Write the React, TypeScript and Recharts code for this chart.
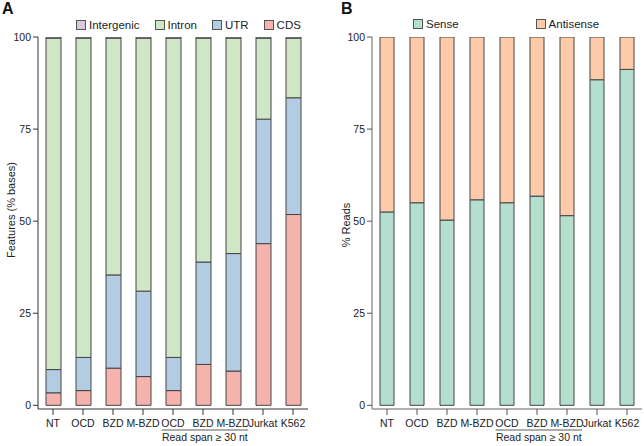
import { BarChart, Bar, XAxis, YAxis } from "recharts";

const CATEGORIES = ["NT", "OCD", "BZD", "M-BZD", "OCD", "BZD", "M-BZD", "Jurkat", "K562"];
const Y_TICKS = [0, 25, 50, 75, 100];

// panel A: features (% bases), stacked bottom -> top
const CDS = [3.4, 4.0, 10.1, 7.8, 4.0, 11.1, 9.3, 43.9, 51.8];
const UTR = [6.3, 9.0, 25.3, 23.2, 9.0, 27.8, 31.9, 33.8, 31.7];
const INTRON = [90.0, 86.7, 64.3, 68.7, 86.7, 60.8, 58.5, 22.0, 16.2];
const INTERGENIC = [0.3, 0.3, 0.3, 0.3, 0.3, 0.3, 0.3, 0.3, 0.3];

// panel B: % reads
const SENSE = [52.5, 55.0, 50.3, 55.8, 55.0, 56.8, 51.5, 88.4, 91.2];
const ANTISENSE = [47.5, 45.0, 49.7, 44.2, 45.0, 43.2, 48.5, 11.6, 8.8];

const FONT = "'Liberation Sans', Arial, Helvetica, sans-serif";

const featureData = CATEGORIES.map((name, i) => ({
  name,
  CDS: CDS[i],
  UTR: UTR[i],
  Intron: INTRON[i],
  Intergenic: INTERGENIC[i],
}));

const readData = CATEGORIES.map((name, i) => ({
  name,
  Sense: SENSE[i],
  Antisense: ANTISENSE[i],
}));

const featureSeries = [
  { key: "Intergenic", color: "#d9c8df" },
  { key: "Intron", color: "#cfe6c7" },
  { key: "UTR", color: "#b4cce3" },
  { key: "CDS", color: "#f5b3ae" },
];

const readSeries = [
  { key: "Sense", color: "#b4decd" },
  { key: "Antisense", color: "#fdcbaa" },
];

const GroupLabel = (props: any) => {
  const { x, y, width } = props.viewBox;
  const bw = width / CATEGORIES.length;
  const x1 = x + bw * 4.12;
  const x2 = x + bw * 7.0;
  return (
    <g>
      <line x1={x1} x2={x2} y1={y + 21} y2={y + 21} stroke="#333" strokeWidth={0.8} />
      <text x={(x1 + x2) / 2} y={y + 32} textAnchor="middle" fontSize={10.5} fill="#222">
        Read span ≥ 30 nt
      </text>
    </g>
  );
};

const YLabel = (props: any) => {
  const { x, y, height } = props.viewBox;
  const cx = x + props.dx;
  const cy = y + height / 2 + props.dy;
  return (
    <text
      x={cx}
      y={cy}
      transform={`rotate(-90, ${cx}, ${cy})`}
      textAnchor="middle"
      dominantBaseline="central"
      fontSize={11}
      fill="#222"
    >
      {props.text}
    </text>
  );
};

const LegendBox = ({ items, gap }: { items: { key: string; color: string }[]; gap: number }) => (
  <div style={{ display: "flex", alignItems: "center", gap, fontSize: 11.5, color: "#222" }}>
    {items.map((s) => (
      <div key={s.key} style={{ display: "flex", alignItems: "center" }}>
        <span
          style={{
            width: 8,
            height: 8,
            background: s.color,
            border: "1px solid #555",
            marginRight: 3,
            display: "inline-block",
          }}
        />
        <span>{s.key}</span>
      </div>
    ))}
  </div>
);

const PanelTitle = ({ text, left }: { text: string; left: number }) => (
  <div style={{ position: "absolute", left, top: 0, fontSize: 16, fontWeight: "bold", color: "#111" }}>
    {text}
  </div>
);

export default function App() {
  const tick = { fontSize: 10.5, fill: "#222" };
  return (
    <div style={{ position: "absolute", left: 0, top: 0, width: 644, height: 446, fontFamily: FONT, background: "#fff" }}>
      <PanelTitle text="A" left={2} />
      <PanelTitle text="B" left={341} />

      <div style={{ position: "absolute", left: 76, top: 19 }}>
        <LegendBox items={featureSeries} gap={15} />
      </div>
      <div style={{ position: "absolute", left: 413, top: 18 }}>
        <LegendBox items={readSeries} gap={77} />
      </div>

      <div style={{ position: "absolute", left: 0, top: 0 }}>
        <BarChart
          width={322}
          height={446}
          data={featureData}
          margin={{ top: 37, right: 14, bottom: 0, left: 0 }}
          barCategoryGap={0}
        >
          <YAxis
            width={38}
            domain={[-1, 100]}
            ticks={Y_TICKS}
            allowDataOverflow
            tick={tick}
            tickSize={5}
            tickMargin={2}
            axisLine={{ stroke: "#333" }}
            tickLine={{ stroke: "#333" }}
            label={<YLabel text="Features (% bases)" dx={11} dy={-13} />}
          />
          <XAxis
            dataKey="name"
            height={37}
            tick={tick}
            tickSize={6}
            tickMargin={5}
            interval={0}
            axisLine={{ stroke: "#333" }}
            tickLine={{ stroke: "#333" }}
            label={<GroupLabel />}
          />
          {featureSeries
            .slice()
            .reverse()
            .map((s) => (
              <Bar
                key={s.key}
                dataKey={s.key}
                stackId="a"
                fill={s.color}
                stroke="#444"
                strokeWidth={1}
                barSize={15}
                isAnimationActive={false}
              />
            ))}
        </BarChart>
      </div>

      <div style={{ position: "absolute", left: 322, top: 0 }}>
        <BarChart
          width={322}
          height={446}
          data={readData}
          margin={{ top: 37, right: 2, bottom: 0, left: 0 }}
          barCategoryGap={0}
        >
          <YAxis
            width={50}
            domain={[-1, 100]}
            ticks={Y_TICKS}
            allowDataOverflow
            tick={tick}
            tickSize={5}
            tickMargin={2}
            axisLine={{ stroke: "#999", strokeWidth: 1.5 }}
            tickLine={{ stroke: "#555" }}
            label={<YLabel text="% Reads" dx={24} dy={2} />}
          />
          <XAxis
            dataKey="name"
            height={37}
            tick={tick}
            tickSize={6}
            tickMargin={5}
            interval={0}
            axisLine={{ stroke: "#999", strokeWidth: 1.5 }}
            tickLine={{ stroke: "#555" }}
            label={<GroupLabel />}
          />
          {readSeries.map((s) => (
            <Bar
              key={s.key}
              dataKey={s.key}
              stackId="b"
              fill={s.color}
              stroke="#444"
              strokeWidth={1}
              barSize={14}
              isAnimationActive={false}
            />
          ))}
        </BarChart>
      </div>
    </div>
  );
}
